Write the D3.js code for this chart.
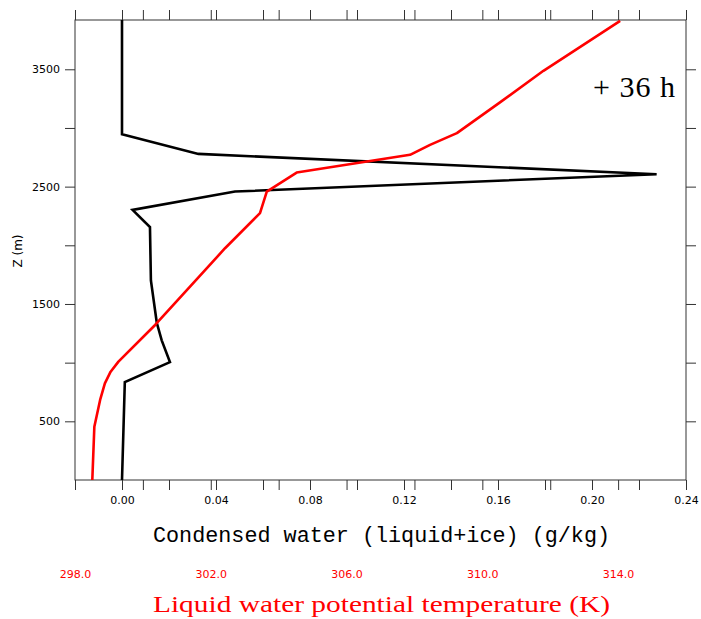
<!DOCTYPE html>
<html>
<head>
<meta charset="utf-8">
<script src="https://cdn.jsdelivr.net/npm/d3@7"></script>
<style>
  body { margin: 0; background: #fff; }
  svg { display: block; }
  .tick text { font-family: "DejaVu Sans", sans-serif; font-size: 11px; }
</style>
</head>
<body>
<div class="chart"></div>
<script>
// condensed water profile (g/kg) vs height (m)
const cwHeight = [0, 835, 1005, 1190, 1340, 1700, 2155, 2302, 2458, 2606, 2779, 2947, 3920];
const cwValue  = [0.0000, 0.0012, 0.0204, 0.0169, 0.0148, 0.0123, 0.0119, 0.0045, 0.0481, 0.2275, 0.0325, 0.0000, 0.0000];

// liquid water potential temperature (K) vs height (m)
const thHeight = [0, 454, 682, 824, 923, 1009, 1321, 1975, 2274, 2458, 2620, 2771, 2856, 2956, 3218, 3487, 3913];
const thValue  = [298.51, 298.57, 298.74, 298.88, 299.05, 299.28, 300.36, 302.42, 303.45, 303.65, 304.53, 307.87, 308.46, 309.25, 310.52, 311.80, 314.06];

const cwTicks  = d3.range(-0.02, 0.2401, 0.02).map(d => +d.toFixed(2));
const cwLabels = [0.00, 0.04, 0.08, 0.12, 0.16, 0.20, 0.24];
const thTicks  = d3.range(298, 316.01, 2);
const thLabels = [298, 302, 306, 310, 314];
const zTicks   = [500, 1000, 1500, 2000, 2500, 3000, 3500];
const zLabels  = [500, 1500, 2500, 3500];

const W = 701, H = 619;
const margin = { top: 20, right: 15, bottom: 139, left: 75 };
const width = W - margin.left - margin.right;
const height = H - margin.top - margin.bottom;

const x = d3.scaleLinear().domain([-0.02, 0.24]).range([0, width]);
const xT = d3.scaleLinear().domain([298, 316]).range([0, width]);
const y = d3.scaleLinear().domain([0, 3920]).range([height, 0]);

const svg = d3.select('.chart').append('svg')
	.attr('width', W)
	.attr('height', H);
const g = svg.append('g').attr('transform', 'translate(' + margin.left + ',' + margin.top + ')');

const axisColor = '#333';
const fmtCw = d => cwLabels.some(v => Math.abs(v - d) < 1e-6) ? d3.format('.2f')(d) : '';
const fmtZ = d => zLabels.indexOf(d) >= 0 ? d : '';

function styleAxis(sel) {
	sel.select('.domain').remove();
	sel.selectAll('.tick line').attr('stroke', axisColor);
}

// bottom: condensed water ticks + labels
g.append('g')
	.attr('transform', 'translate(0,' + height + ')')
	.call(d3.axisBottom(x).tickValues(cwTicks).tickSize(10).tickPadding(6).tickFormat(fmtCw))
	.call(styleAxis);
// bottom: temperature ticks
g.append('g')
	.attr('transform', 'translate(0,' + height + ')')
	.call(d3.axisBottom(xT).tickValues(thTicks).tickSize(10).tickFormat(''))
	.call(styleAxis);
// top ticks (both scales)
g.append('g')
	.call(d3.axisTop(x).tickValues(cwTicks).tickSize(10).tickFormat(''))
	.call(styleAxis);
g.append('g')
	.call(d3.axisTop(xT).tickValues(thTicks).tickSize(10).tickFormat(''))
	.call(styleAxis);
// left / right
g.append('g')
	.call(d3.axisLeft(y).tickValues(zTicks).tickSize(10).tickPadding(5).tickFormat(fmtZ))
	.call(styleAxis);
g.append('g')
	.attr('transform', 'translate(' + width + ',0)')
	.call(d3.axisRight(y).tickValues(zTicks).tickSize(10).tickFormat(''))
	.call(styleAxis);

// temperature labels below, in red
const tLab = g.append('g')
	.attr('transform', 'translate(0,' + (height + 90) + ')')
	.call(d3.axisBottom(xT).tickValues(thLabels).tickSize(0).tickPadding(0).tickFormat(d3.format('.1f')));
tLab.select('.domain').remove();
tLab.selectAll('text').attr('fill', '#ff0000');

// frame
g.append('rect')
	.attr('width', width)
	.attr('height', height)
	.attr('fill', 'none')
	.attr('stroke', axisColor)
	.attr('stroke-width', 1);

// lines
const cwLine = d3.line().x(i => x(cwValue[i])).y(i => y(cwHeight[i]));
const thLine = d3.line().x(i => xT(thValue[i])).y(i => y(thHeight[i]));

g.append('path')
	.attr('d', cwLine(d3.range(cwValue.length)))
	.attr('fill', 'none')
	.attr('stroke', '#000')
	.attr('stroke-width', 2.6)
	.attr('stroke-linejoin', 'miter');

g.append('path')
	.attr('d', thLine(d3.range(thValue.length)))
	.attr('fill', 'none')
	.attr('stroke', '#ff0000')
	.attr('stroke-width', 2.6)
	.attr('stroke-linejoin', 'round');

// titles
svg.append('text')
	.attr('x', 153)
	.attr('y', 542)
	.attr('textLength', 457)
	.attr('lengthAdjust', 'spacingAndGlyphs')
	.style('font-family', '"Liberation Mono", monospace')
	.style('font-size', '22px')
	.attr('fill', '#000')
	.text('Condensed water (liquid+ice) (g/kg)');

svg.append('text')
	.attr('x', 153)
	.attr('y', 612)
	.attr('textLength', 457)
	.attr('lengthAdjust', 'spacingAndGlyphs')
	.style('font-family', '"Liberation Serif", serif')
	.style('font-size', '23px')
	.attr('fill', '#ff0000')
	.text('Liquid water potential temperature (K)');

svg.append('text')
	.attr('transform', 'translate(22,251) rotate(-90)')
	.attr('text-anchor', 'middle')
	.style('font-family', '"DejaVu Sans", sans-serif')
	.style('font-size', '12px')
	.text('Z (m)');

svg.append('text')
	.attr('x', 593)
	.attr('y', 97)
	.attr('textLength', 82)
	.attr('lengthAdjust', 'spacing')
	.style('font-family', '"Liberation Serif", serif')
	.style('font-size', '30px')
	.text('+ 36 h');
</script>
</body>
</html>
